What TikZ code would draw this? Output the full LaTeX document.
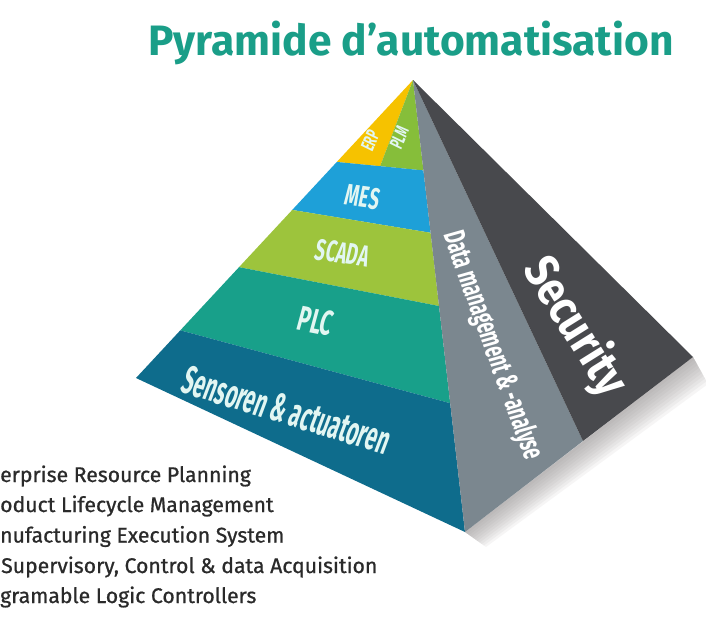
\documentclass[tikz,border=0pt]{standalone}
\usepackage{fontspec}
\setmainfont{Fira Sans}
\newfontfamily\pyrfont[FakeSlant=0.12]{Fira Sans}
\newfontfamily\listfont[FakeBold=0.8]{Fira Sans}
\usetikzlibrary{calc}
\definecolor{TitleTeal}{HTML}{1A9E88}
\definecolor{ErpYellow}{HTML}{F6C200}
\definecolor{PlmGreen}{HTML}{86BE3A}
\definecolor{MesBlue}{HTML}{1EA0D8}
\definecolor{ScadaLime}{HTML}{9DC43C}
\definecolor{PlcTeal}{HTML}{18A08A}
\definecolor{SensorBlue}{HTML}{0E6C8C}
\definecolor{DataGrey}{HTML}{7B878F}
\definecolor{SecurityGrey}{HTML}{48494D}
\definecolor{ShadowGrey}{HTML}{8E8A8A}
\definecolor{LabelMint}{HTML}{E2F6F2}
\definecolor{Ink}{HTML}{2A2A2A}

\begin{document}
\begin{tikzpicture}[
    x=1pt, y=-1pt,
    band label/.style={xscale=0.6, inner sep=0pt, text=LabelMint},
    side label/.style={xscale=0.6, inner sep=0pt, text=white},
    legend line/.style={anchor=base west, inner sep=0pt, text=Ink,
                        font=\listfont\fontsize{21.2}{24}\selectfont}
]
\useasboundingbox (0,0) rectangle (706,624);
\fill[white] (0,0) rectangle (706,624);

% Title
\node[anchor=base, font=\fontsize{42.5}{46}\selectfont\bfseries, text=TitleTeal]
    (title) at (411,55) {Pyramide d'automatisation};

% Pyramid corners
\coordinate (apex)  at (413,80);
\coordinate (left)  at (136,378);
\coordinate (front) at (465,532);
\coordinate (right) at (693,357);
\coordinate (split) at (583,441);

% Band borders on the left and front edges
\coordinate (l1) at ($(apex)!0.275!(left)$);  \coordinate (f1) at ($(apex)!0.20!(front)$);
\coordinate (l2) at ($(apex)!0.436!(left)$);  \coordinate (f2) at ($(apex)!0.338!(front)$);
\coordinate (l3) at ($(apex)!0.628!(left)$);  \coordinate (f3) at ($(apex)!0.50!(front)$);
\coordinate (l4) at ($(apex)!0.84!(left)$);   \coordinate (f4) at ($(apex)!0.715!(front)$);
\coordinate (top) at ($(l1)!0.5!(f1)$);

% Shadow
\foreach \d in {3,6,...,30}
    \fill[ShadowGrey, opacity=0.08] (front) -- (right)
        -- ($(right)+(0.5*\d,0.9*\d)$) -- ($(front)+(0.7*\d,0.5*\d)$) -- cycle;

% Left face
\fill[ErpYellow]  (apex) -- (l1) -- (top) -- cycle;
\fill[PlmGreen]   (apex) -- (top) -- (f1) -- cycle;
\fill[MesBlue]    (l1) -- (l2) -- (f2) -- (f1) -- cycle;
\fill[ScadaLime]  (l2) -- (l3) -- (f3) -- (f2) -- cycle;
\fill[PlcTeal]    (l3) -- (l4) -- (f4) -- (f3) -- cycle;
\fill[SensorBlue] (l4) -- (left) -- (front) -- (f4) -- cycle;

% Right face
\fill[DataGrey]     (apex) -- (front) -- (split) -- cycle;
\fill[SecurityGrey] (apex) -- (split) -- (right) -- cycle;

% Band labels
\node[rotate=68, band label, font=\pyrfont\bfseries\fontsize{19}{19}\selectfont]
    (erp) at (370,141) {ERP};
\node[rotate=68, band label, font=\pyrfont\bfseries\fontsize{19}{19}\selectfont]
    (plm) at (399,138) {PLM};
\node[rotate=-8, band label, font=\pyrfont\bfseries\fontsize{30}{30}\selectfont]
    (mes) at (362,197) {MES};
\node[rotate=-9, band label, font=\pyrfont\bfseries\fontsize{30}{30}\selectfont]
    (scada) at (342,253) {SCADA};
\node[rotate=-11, band label, font=\pyrfont\bfseries\fontsize{35}{35}\selectfont]
    (plc) at (315,321) {PLC};
\node[rotate=-17, band label, xscale=0.85,
      font=\pyrfont\bfseries\fontsize{40}{40}\selectfont]
    (sensors) at (286,410) {Sensoren \& actuatoren};

% Side labels
\node[rotate=-70, side label, font=\pyrfont\bfseries\fontsize{30}{30}\selectfont]
    (data) at (492,345) {Data management \& -analyse};
\node[rotate=-58, side label, xscale=1.42, font=\bfseries\fontsize{48}{48}\selectfont]
    (security) at (575,327) {Security};

% Abbreviations
\node[legend line] (erpline)   at (0,482)   {erprise Resource Planning};
\node[legend line] (plmline)   at (0,512)   {oduct Lifecycle Management};
\node[legend line] (mesline)   at (0,542.5) {nufacturing Execution System};
\node[legend line] (scadaline) at (1,573)   {Supervisory, Control \& data Acquisition};
\node[legend line] (plcline)   at (0,603)   {gramable Logic Controllers};

\end{tikzpicture}
\end{document}
